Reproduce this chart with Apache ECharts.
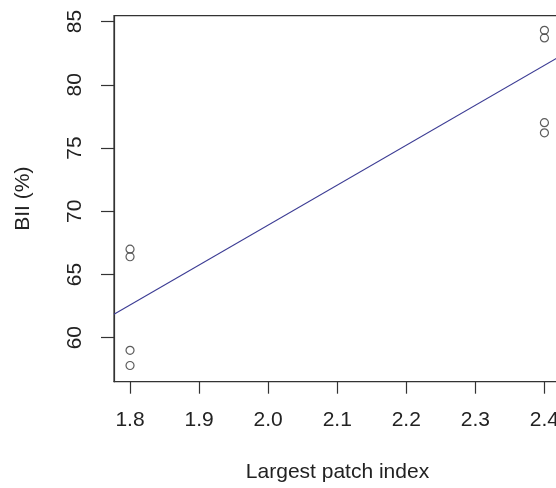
<!DOCTYPE html>
<html>
<head>
<meta charset="utf-8">
<script src="https://cdn.jsdelivr.net/npm/echarts@6/dist/echarts.min.js"></script>
<style>
html,body{margin:0;padding:0;background:#fff;}
#c{width:556px;height:488px;}
</style>
</head>
<body>
<div id="c"></div>
<script>
// Data
const xTicks = [1.8, 1.9, 2.0, 2.1, 2.2, 2.3, 2.4];
const yTicks = [60, 65, 70, 75, 80, 85];
const largestPatchIndex = [1.8, 1.8, 1.8, 1.8, 2.4, 2.4, 2.4, 2.4];
const bii = [67.0, 66.4, 59.0, 57.8, 84.3, 83.7, 77.0, 76.2];
const fitX = [1.7768, 2.424];
const fitY = [61.85, 82.3];
const xTitle = 'Largest patch index';
const yTitle = 'BII (%)';

const chart = echarts.init(document.getElementById('c'), null, {renderer: 'canvas'});
const font = 'Liberation Sans, Arial, sans-serif';
const txt = '#222';
const axisCol = '#333';

chart.setOption({
  animation: false,
  backgroundColor: '#fff',
  grid: {
    left: 114, top: 15.7, right: -5, bottom: 106.3,
    outerBoundsMode: 'none', containLabel: false,
    show: true, borderColor: axisCol, borderWidth: 1.2, backgroundColor: 'transparent'
  },
  xAxis: {
    type: 'value', min: 1.7768, max: 2.424,
    axisLine: {show: true, onZero: false, lineStyle: {color: axisCol, width: 1.2}},
    axisTick: {show: true, length: 12, customValues: xTicks, lineStyle: {color: axisCol, width: 1.2}},
    axisLabel: {
      customValues: xTicks, margin: 28, color: txt, fontSize: 21, fontFamily: font,
      hideOverlap: false,
      formatter: v => Number(v).toFixed(1)
    },
    splitLine: {show: false},
    name: xTitle, nameLocation: 'middle', nameGap: 80,
    nameTextStyle: {color: txt, fontSize: 21, fontFamily: font}
  },
  yAxis: {
    type: 'value', min: 56.52, max: 85.46,
    axisLine: {show: true, onZero: false, lineStyle: {color: axisCol, width: 1.2}},
    axisTick: {show: true, length: 13, customValues: yTicks, lineStyle: {color: axisCol, width: 1.2}},
    axisLabel: {
      customValues: yTicks, rotate: 90, margin: 28, color: txt, fontSize: 21, fontFamily: font,
      formatter: v => String(v)
    },
    splitLine: {show: false},
    name: yTitle, nameLocation: 'middle', nameGap: 80, nameRotate: 90,
    nameTextStyle: {color: txt, fontSize: 21, fontFamily: font}
  },
  series: [
    {
      type: 'line',
      data: fitX.map((x, i) => [x, fitY[i]]),
      symbol: 'none',
      lineStyle: {color: '#3c3c94', width: 1.1},
      clip: true,
      z: 2
    },
    {
      type: 'scatter',
      data: largestPatchIndex.map((x, i) => [x, bii[i]]),
      symbol: 'circle',
      symbolSize: 8,
      itemStyle: {color: 'transparent', borderColor: '#333', borderWidth: 1.2},
      z: 3
    }
  ]
});
</script>
</body>
</html>
